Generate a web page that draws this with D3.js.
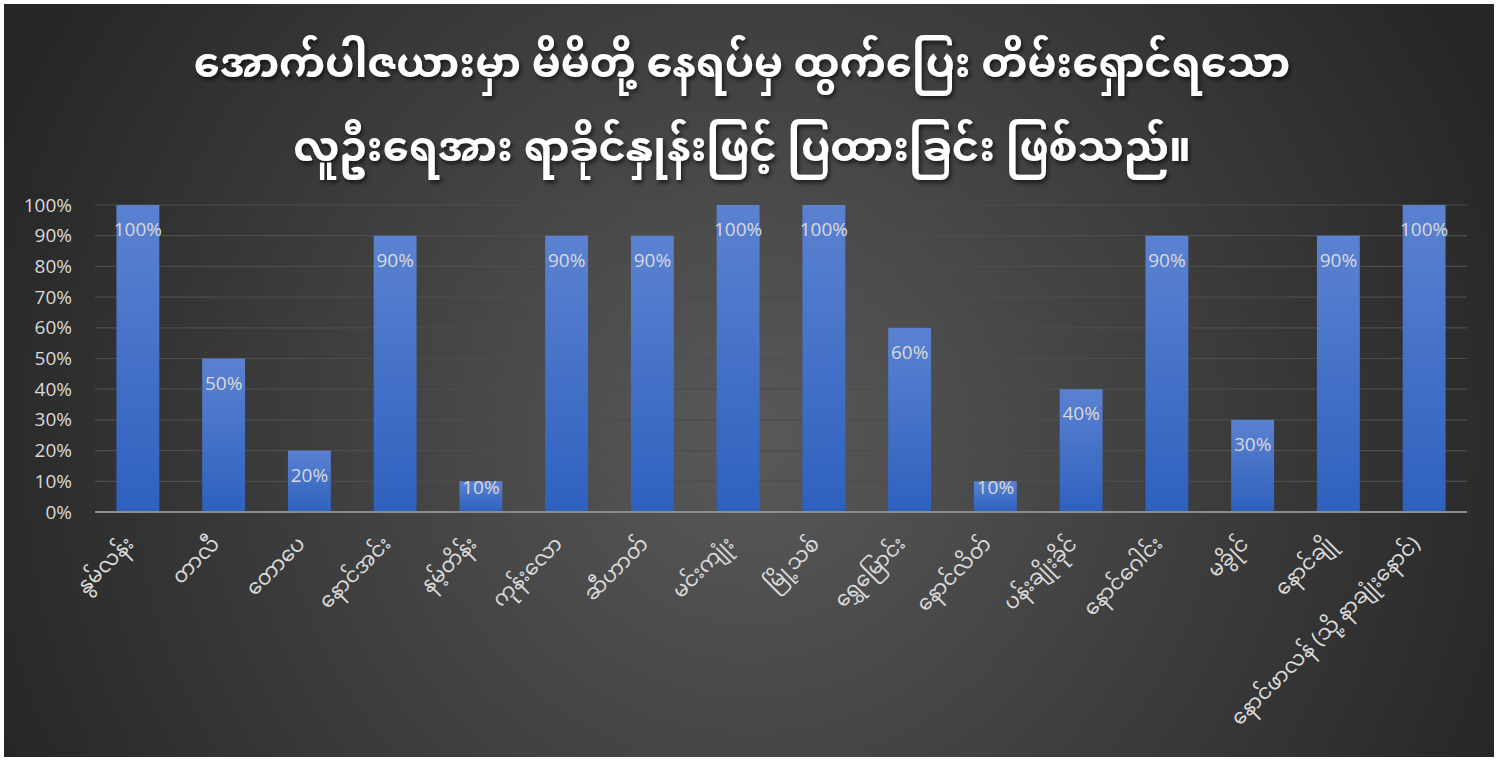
<!DOCTYPE html>
<html>
<head>
<meta charset="utf-8">
<script src="https://cdn.jsdelivr.net/npm/d3@7"></script>
<style>
html,body{margin:0;padding:0;background:#ffffff;}
svg{display:block;}
</style>
</head>
<body>
<svg id="chart" width="1498" height="761"></svg>
<script>
const titleLines = ["အောက်ပါဇယားမှာ မိမိတို့ နေရပ်မှ ထွက်ပြေး တိမ်းရှောင်ရသော", "လူဦးရေအား ရာခိုင်နှုန်းဖြင့် ပြထားခြင်း ဖြစ်သည်။"];
const categories = ["နွမ်လန်း","တာလီ","တောပေ","နောင်အင်း","နမ့်တိန်း","ကုန်းလော","ဆီဟာတ်","မင်းကျုံး","မြို့သစ်","ရွှေမြောင်း","နောင်လိတ်","ပန်းချိုးခိုင်","နောင်ဂေါင်း","မခွိုင်","နောင်ချို","နောင်ဖာလန် (သို့ နာချုံးနောင်)"];
const values = [100,50,20,90,10,90,90,100,100,60,10,40,90,30,90,100];
const yTicks = [0,10,20,30,40,50,60,70,80,90,100];

const FONT = "'Noto Sans Myanmar','Padauk','Myanmar Text','Noto Sans',sans-serif";
const NUMFONT = "'Open Sans','Noto Sans',sans-serif";
const W = 1498, H = 761;
const svg = d3.select("#chart");
const defs = svg.append("defs");

const bg = defs.append("radialGradient").attr("id","bg")
  .attr("gradientUnits","userSpaceOnUse").attr("cx",750).attr("cy",440).attr("r",820);
bg.append("stop").attr("offset","0%").attr("stop-color","#595959");
bg.append("stop").attr("offset","100%").attr("stop-color","#262626");

const bar = defs.append("linearGradient").attr("id","bar").attr("x1",0).attr("y1",0).attr("x2",0).attr("y2",1);
bar.append("stop").attr("offset","0%").attr("stop-color","#5b82d1");
bar.append("stop").attr("offset","100%").attr("stop-color","#2e61be");

const sh = defs.append("filter").attr("id","shadow").attr("x","-10%").attr("y","-30%").attr("width","120%").attr("height","160%");
sh.append("feDropShadow").attr("dx",2).attr("dy",3).attr("stdDeviation",2).attr("flood-color","#000").attr("flood-opacity",0.6);

svg.append("rect").attr("x",4).attr("y",4).attr("width",W-8).attr("height",H-8).attr("fill","url(#bg)");

const x = d3.scaleBand().domain(categories).range([95,1467]).paddingInner(0.5).paddingOuter(0.25);
const y = d3.scaleLinear().domain([0,100]).range([512,205]);

// gridlines
svg.append("g").selectAll("line").data(yTicks.filter(d=>d>0)).join("line")
  .attr("x1",95).attr("x2",1467).attr("y1",d=>y(d)).attr("y2",d=>y(d))
  .attr("stroke","#4d4d4d").attr("stroke-width",1.2);

// y axis labels
const yAxis = d3.axisLeft(y).tickValues(yTicks).tickFormat(d=>d+"%").tickSize(0).tickPadding(0);
const yg = svg.append("g").attr("transform","translate(72,0)").call(yAxis);
yg.select(".domain").remove();
yg.selectAll("text").attr("fill","#d9d9d9").attr("font-size",19).attr("font-family",NUMFONT);

// bars
svg.append("g").selectAll("rect").data(values).join("rect")
  .attr("x",(d,i)=>x(categories[i])).attr("width",x.bandwidth())
  .attr("y",d=>y(d)).attr("height",d=>y(0)-y(d))
  .attr("fill","url(#bar)");

// x axis line
svg.append("line").attr("x1",95).attr("x2",1467).attr("y1",y(0)).attr("y2",y(0))
  .attr("stroke","#8c8c8c").attr("stroke-width",2);

// data labels
svg.append("g").selectAll("text").data(values).join("text")
  .attr("x",(d,i)=>x(categories[i])+x.bandwidth()/2)
  .attr("y",d=>Math.min(y(d)+26, y(0)-23))
  .attr("text-anchor","middle").attr("dominant-baseline","middle")
  .attr("fill","#d9d9d9").attr("font-size",19).attr("font-family",NUMFONT)
  .text(d=>d+"%");

// x labels
const xAxis = d3.axisBottom(x).tickSize(0).tickPadding(0);
const xg = svg.append("g").attr("transform",`translate(0,${y(0)})`).call(xAxis);
xg.select(".domain").remove();
xg.selectAll("text")
  .attr("fill","#d9d9d9").attr("font-size",21).attr("font-family",FONT)
  .attr("text-anchor","end").attr("dy",0).attr("y",0)
  .attr("transform","translate(-3,33) rotate(-45)");

// title
svg.append("g").selectAll("text").data(titleLines).join("text")
  .attr("x",742).attr("y",(d,i)=>66+i*84)
  .attr("text-anchor","middle").attr("dominant-baseline","middle")
  .attr("fill","#ffffff").attr("font-size",41.5).attr("font-weight","bold")
  .attr("font-family",FONT).attr("filter","url(#shadow)")
  .text(d=>d);
</script>
</body>
</html>
